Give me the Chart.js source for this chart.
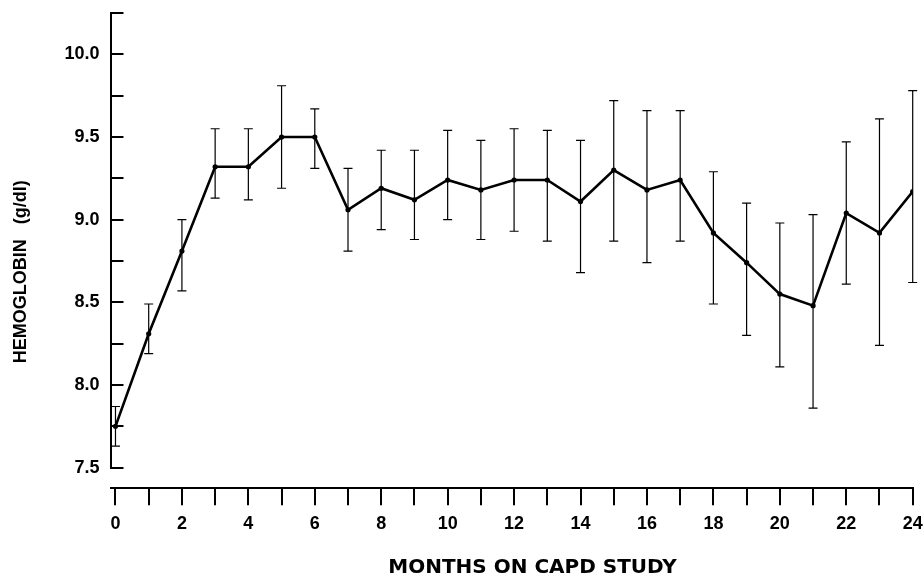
<!DOCTYPE html>
<html>
<head>
<meta charset="utf-8">
<script src="https://cdn.jsdelivr.net/npm/chart.js@4"></script>
<style>html,body{margin:0;padding:0;background:#fff}canvas{display:block}</style>
</head>
<body>
<canvas id="c" width="924" height="576"></canvas>
<script>
const months = [0,1,2,3,4,5,6,7,8,9,10,11,12,13,14,15,16,17,18,19,20,21,22,23,24];
const hemoglobin = [7.75,8.31,8.81,9.32,9.32,9.50,9.50,9.06,9.19,9.12,9.24,9.18,9.24,9.24,9.11,9.30,9.18,9.24,8.92,8.74,8.55,8.48,9.04,8.92,9.17];
const errorUpper = [7.87,8.49,9.00,9.55,9.55,9.81,9.67,9.31,9.42,9.42,9.54,9.48,9.55,9.54,9.48,9.72,9.66,9.66,9.29,9.10,8.98,9.03,9.47,9.61,9.78];
const errorLower = [7.63,8.19,8.57,9.13,9.12,9.19,9.31,8.81,8.94,8.88,9.00,8.88,8.93,8.87,8.68,8.87,8.74,8.87,8.49,8.30,8.11,7.86,8.61,8.24,8.62];
const yTickValues = [7.5,7.75,8.0,8.25,8.5,8.75,9.0,9.25,9.5,9.75,10.0,10.25];
const xLabelStep = 2;
const yTitle = 'HEMOGLOBIN   (g/dl)';
const xTitle = 'MONTHS ON CAPD STUDY';

const errorBars = {
  id: 'errorBars',
  beforeDatasetsDraw(chart) {
    const {ctx, scales: {x, y}} = chart;
    ctx.save();
    ctx.strokeStyle = '#000';
    ctx.lineWidth = 1.2;
    months.forEach((m, i) => {
      const px = x.getPixelForValue(m);
      const t = y.getPixelForValue(errorUpper[i]);
      const b = y.getPixelForValue(errorLower[i]);
      ctx.beginPath();
      ctx.moveTo(px, t); ctx.lineTo(px, b);
      ctx.moveTo(px - 4.5, t); ctx.lineTo(px + 4.5, t);
      ctx.moveTo(px - 4.5, b); ctx.lineTo(px + 4.5, b);
      ctx.stroke();
    });
    ctx.restore();
  }
};

const shiftXAxis = {
  id: 'shiftXAxis',
  afterLayout(chart) { chart.scales.x.top += 20.6; }
};

const axisTitles = {
  id: 'axisTitles',
  afterDraw(chart) {
    const ctx = chart.ctx;
    ctx.save();
    ctx.fillStyle = '#000';
    ctx.textAlign = 'center';
    ctx.textBaseline = 'middle';
    ctx.font = 'bold 20px "DejaVu Sans"';
    ctx.fillText(xTitle, 532.5, 568);
    ctx.translate(21.5, 271.7);
    ctx.rotate(-Math.PI / 2);
    ctx.font = 'bold 18px "Liberation Sans"';
    ctx.fillText(yTitle, 0, 0);
    ctx.restore();
  }
};

const tickFont = {family: 'Liberation Sans', size: 18, weight: 'bold'};

new Chart(document.getElementById('c'), {
  type: 'line',
  data: {
    datasets: [{
      data: months.map((m, i) => ({x: m, y: hemoglobin[i]})),
      borderColor: '#000',
      borderWidth: 2.6,
      pointRadius: 2.6,
      pointBackgroundColor: '#000',
      pointBorderColor: '#000',
      pointBorderWidth: 0,
      tension: 0,
      fill: false
    }]
  },
  options: {
    responsive: false,
    animation: false,
    layout: {padding: {left: 0, top: 13, right: 11.3, bottom: 0}},
    plugins: {legend: {display: false}, tooltip: {enabled: false}},
    scales: {
      x: {
        type: 'linear', min: -0.15, max: 24,
        afterFit(s) { s.height = 108.3; s.paddingLeft = 0; s.paddingRight = 0; },
        afterBuildTicks(s) { s.ticks = months.map(v => ({value: v})); },
        border: {display: true, color: '#000', width: 2},
        grid: {drawOnChartArea: false, drawTicks: true, tickLength: 17, color: '#000', lineWidth: 2},
        ticks: {
          autoSkip: false, maxRotation: 0, minRotation: 0, padding: 8, color: '#000', font: tickFont,
          callback: (v) => (v % xLabelStep === 0 ? String(v) : '')
        },
        title: {display: false}
      },
      y: {
        type: 'linear', min: 7.5, max: 10.25,
        afterFit(s) { s.width = 110.5; s.paddingTop = 0; s.paddingBottom = 0; },
        afterBuildTicks(s) { s.ticks = yTickValues.map(v => ({value: v})); },
        border: {display: true, color: '#000', width: 2},
        grid: {drawOnChartArea: false, drawTicks: true, tickLength: -13, color: '#000', lineWidth: 2},
        ticks: {
          padding: 24, color: '#000', font: tickFont,
          callback: (v) => (Math.abs(v * 2 - Math.round(v * 2)) < 1e-6 ? v.toFixed(1) : '')
        },
        title: {display: false}
      }
    }
  },
  plugins: [errorBars, shiftXAxis, axisTitles]
});
</script>
</body>
</html>
